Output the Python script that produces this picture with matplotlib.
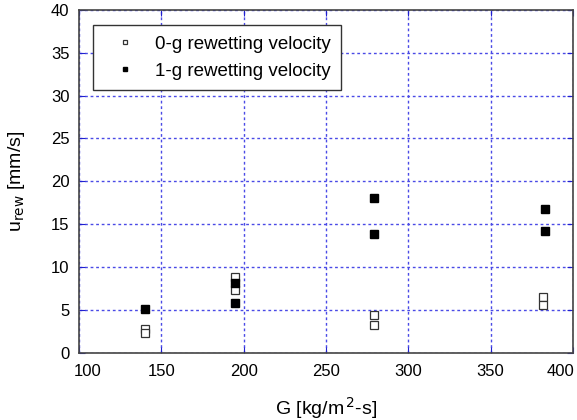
import numpy as np
import matplotlib
matplotlib.use("Agg")
import matplotlib.pyplot as plt
from matplotlib.transforms import ScaledTranslation

plt.rcParams['font.family'] = ['Liberation Sans', 'DejaVu Sans']

# 0-g rewetting velocity
g0_G = [140, 140, 195, 195, 279, 279, 382, 382]
g0_u = [2.8, 2.3, 8.9, 7.4, 4.5, 3.3, 6.5, 5.6]

# 1-g rewetting velocity
g1_G = [140, 195, 195, 279, 279, 383, 383]
g1_u = [5.2, 8.2, 5.8, 18.1, 13.9, 16.8, 14.2]

fig = plt.figure(figsize=(5.77, 4.2), dpi=100)
ax = fig.add_axes([0.137, 0.159, 0.856, 0.818])

ax.plot(g0_G, g0_u, 's', mfc='white', mec='#333333', mew=0.9, ms=6,
        label='0-g rewetting velocity')
ax.plot(g1_G, g1_u, 's', mfc='black', mec='black', ms=6,
        label='1-g rewetting velocity')

ax.set_xlim(100, 400)
ax.set_ylim(0, 40)
ax.set_xticks(np.arange(100, 401, 50))
ax.set_yticks(np.arange(0, 41, 5))

ax.grid(True, color='#4a4ae6', linestyle=(0, (2, 2)), linewidth=1)
ax.set_axisbelow(True)
ax.tick_params(direction='in', color='#2020d0', top=True, right=True,
               length=4, labelsize=12)
ax.tick_params(axis='x', pad=8)
ax.tick_params(axis='y', pad=7)
for s in ax.spines.values():
    s.set_color('#444444')
    s.set_linewidth(1.2)

# MATLAB-style: end labels pulled inside the axes
xt = ax.xaxis.get_major_ticks()
l0 = xt[0].label1
l0.set_transform(l0.get_transform() + ScaledTranslation(9 / 100, 0, fig.dpi_scale_trans))
l1 = xt[-1].label1
l1.set_transform(l1.get_transform() + ScaledTranslation(-12 / 100, 0, fig.dpi_scale_trans))

ax.set_xlabel('G [kg/m$^{\\,2}$-s]', fontsize=14, labelpad=11)
ax.set_ylabel('u$_{\\mathrm{rew}}$ [mm/s]', fontsize=14, labelpad=17)

leg = ax.legend(loc='upper left', bbox_to_anchor=(0.028, 0.955), borderaxespad=0,
                fontsize=13.5, markerscale=0.6, fancybox=False, framealpha=1,
                edgecolor='#333333', handlelength=2.3, handletextpad=0.46,
                borderpad=0.55, labelspacing=0.55)
leg.get_frame().set_linewidth(1.0)

plt.savefig('out.png', dpi=100)
